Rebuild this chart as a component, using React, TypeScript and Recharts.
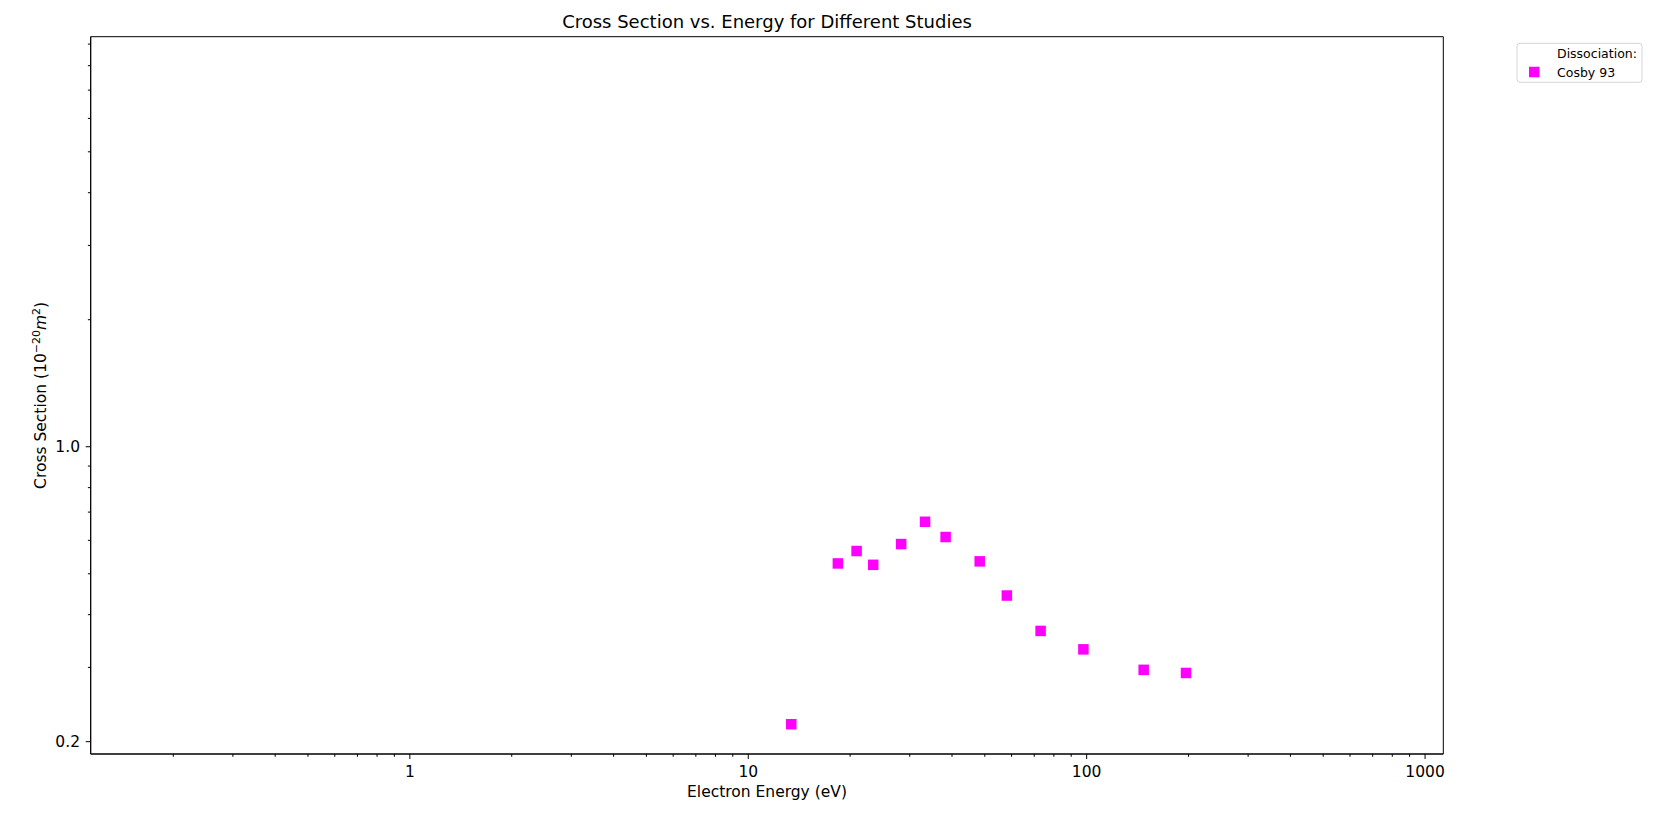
import { ScatterChart, Scatter, XAxis, YAxis, ReferenceArea, Customized } from 'recharts';

// Cosby 93 dissociation cross sections
const seriesName = 'Cosby 93';
const legendTitle = 'Dissociation:';
const energies = [13.4, 18.4, 20.9, 23.4, 28.3, 33.3, 38.3, 48.3, 58.1, 73.1, 97.8, 147.4, 196.6];
const crossSections = [0.22, 0.529, 0.566, 0.525, 0.588, 0.664, 0.611, 0.535, 0.444, 0.366, 0.331, 0.296, 0.291];

const xTicks = [
  0.2, 0.3, 0.4, 0.5, 0.6, 0.7, 0.8, 0.9,
  1, 2, 3, 4, 5, 6, 7, 8, 9,
  10, 20, 30, 40, 50, 60, 70, 80, 90,
  100, 200, 300, 400, 500, 600, 700, 800, 900,
  1000,
];
const xTickLabels: Record<number, string> = { 1: '1', 10: '10', 100: '100', 1000: '1000' };

const yTicks = [0.2, 0.3, 0.4, 0.5, 0.6, 0.7, 0.8, 0.9, 1, 2, 3, 4, 5, 6, 7, 8, 9];
const yTickLabels: Record<number, string> = { 0.2: '0.2', 1: '1.0' };

const xDomain = [0.114, 1132];
const yDomain = [0.187, 9.37];

const data = energies.map((energy, i) => ({ energy, cs: crossSections[i] }));

const FONT = '"DejaVu Sans", sans-serif';
const MAGENTA = '#ff00ff';

function XTick(props: any) {
  const { x, y, payload } = props;
  const label = xTickLabels[payload.value];
  return (
    <g>
      <line x1={x} x2={x} y1={y} y2={y + (label ? 5 : 2.8)} stroke="#000" strokeWidth={1} />
      {label && (
        <text x={x} y={y + 22.7} textAnchor="middle" fontSize={15.5} fontFamily={FONT} fill="#000">
          {label}
        </text>
      )}
    </g>
  );
}

function YTick(props: any) {
  const { x, y, payload } = props;
  const label = yTickLabels[payload.value];
  return (
    <g>
      <line x1={x} x2={x - (label ? 5 : 2.8)} y1={y} y2={y} stroke="#000" strokeWidth={1} />
      {label && (
        <text x={x - 10.7} y={y + 5.6} textAnchor="end" fontSize={15.5} fontFamily={FONT} fill="#000">
          {label}
        </text>
      )}
    </g>
  );
}

function Square(props: any) {
  const { cx, cy } = props;
  return <rect x={cx - 5.25} y={cy - 5.25} width={10.5} height={10.5} fill={MAGENTA} />;
}

function Overlay() {
  return (
    <g fontFamily={FONT} fill="#000">
      <text x={759} y={20.3} textAnchor="middle" fontSize={18}>
        Cross Section vs. Energy for Different Studies
      </text>
      <text x={759} y={789} textAnchor="middle" fontSize={15.5}>
        Electron Energy (eV)
      </text>
      <text x={38.5} y={387.4} textAnchor="middle" fontSize={15.5} transform="rotate(-90, 38.5, 387.4)">
        Cross Section (10
        <tspan dy={-6} fontSize={11}>−20</tspan>
        <tspan dy={6} fontStyle="italic">m</tspan>
        <tspan dy={-6} fontSize={11}>2</tspan>
        <tspan dy={6}>)</tspan>
      </text>
      <rect x={1509} y={35.3} width={125} height={39} rx={3} fill="#fff" stroke="#d5d5d5" />
      <text x={1549} y={50.3} fontSize={12.5}>{legendTitle}</text>
      <rect x={1521} y={58.75} width={10.5} height={10.5} fill={MAGENTA} />
      <text x={1549} y={68.7} fontSize={12.5}>{seriesName}</text>
    </g>
  );
}

export default function App() {
  return (
    <ScatterChart
      width={1640}
      height={800}
      margin={{ top: 28.7, right: 204.7, bottom: 24, left: 0 }}
      style={{ background: '#fff' }}
    >
      <XAxis
        dataKey="energy"
        type="number"
        scale="log"
        domain={xDomain}
        allowDataOverflow
        ticks={xTicks}
        interval={0}
        tickSize={0}
        tickMargin={0}
        tickLine={false}
        tick={(p: any) => <XTick {...p} />}
        axisLine={{ stroke: '#000', strokeWidth: 1 }}
        height={30}
      />
      <YAxis
        dataKey="cs"
        type="number"
        scale="log"
        domain={yDomain}
        allowDataOverflow
        ticks={yTicks}
        interval={0}
        tickSize={0}
        tickMargin={0}
        tickLine={false}
        tick={(p: any) => <YTick {...p} />}
        axisLine={{ stroke: '#000', strokeWidth: 1 }}
        width={82.7}
      />
      <ReferenceArea
        x1={xDomain[0]}
        x2={xDomain[1]}
        y1={yDomain[0]}
        y2={yDomain[1]}
        fill="none"
        stroke="#000"
        strokeWidth={1}
      />
      <Scatter name={seriesName} data={data} shape={(p: any) => <Square {...p} />} isAnimationActive={false} />
      <Customized component={Overlay} />
    </ScatterChart>
  );
}
